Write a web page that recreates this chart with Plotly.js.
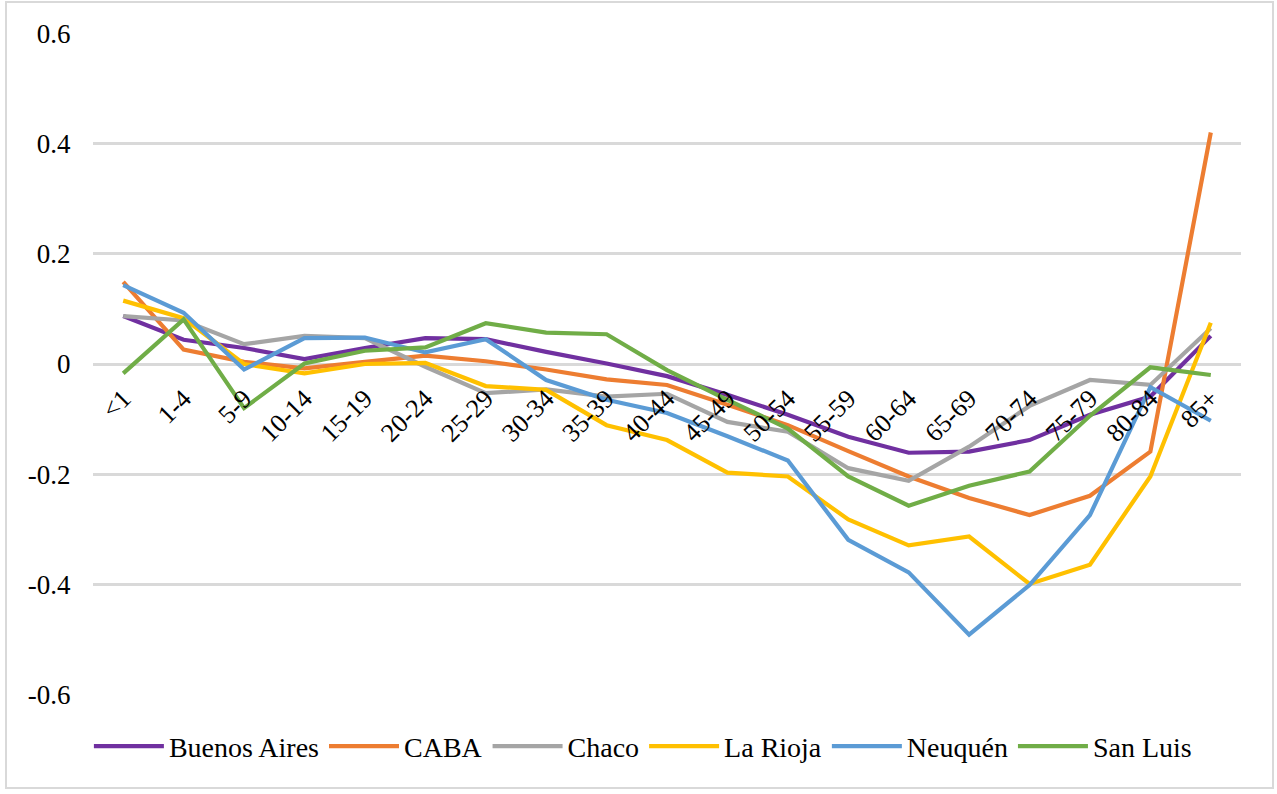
<!DOCTYPE html>
<html>
<head>
<meta charset="utf-8">
<script src="https://cdn.plot.ly/plotly-3.0.1.min.js"></script>
<style>
body { margin: 0; background: #fff; }
#chart { position: absolute; left: 0; top: 0; width: 1277px; height: 794px; }
#frame { position: absolute; left: 5px; top: 1px; width: 1265px; height: 784px; border: 2px solid #d9d9d9; pointer-events: none; }
</style>
</head>
<body>
<div id="chart"></div>
<div id="frame"></div>
<script>
var ageGroups = ['<1', '1-4', '5-9', '10-14', '15-19', '20-24', '25-29', '30-34', '35-39', '40-44',
	'45-49', '50-54', '55-59', '60-64', '65-69', '70-74', '75-79', '80-84', '85+'];

var buenosAires = [0.087, 0.044, 0.029, 0.009, 0.029, 0.047, 0.045, 0.022, 0.001, -0.022,
	-0.056, -0.092, -0.132, -0.161, -0.159, -0.138, -0.092, -0.059, 0.051];
var caba = [0.149, 0.026, 0.004, -0.008, 0.004, 0.015, 0.005, -0.010, -0.028, -0.038,
	-0.074, -0.111, -0.158, -0.204, -0.243, -0.274, -0.239, -0.159, 0.420];
var chaco = [0.087, 0.079, 0.036, 0.051, 0.047, -0.005, -0.053, -0.046, -0.059, -0.054,
	-0.105, -0.123, -0.189, -0.212, -0.150, -0.076, -0.029, -0.038, 0.065];
var laRioja = [0.115, 0.083, 0.000, -0.017, 0.000, 0.002, -0.040, -0.047, -0.111, -0.138,
	-0.197, -0.204, -0.282, -0.329, -0.313, -0.399, -0.364, -0.204, 0.075];
var neuquen = [0.143, 0.093, -0.010, 0.047, 0.048, 0.021, 0.045, -0.029, -0.065, -0.089,
	-0.131, -0.175, -0.319, -0.378, -0.491, -0.401, -0.274, -0.042, -0.103];
var sanLuis = [-0.017, 0.081, -0.080, 0.001, 0.024, 0.030, 0.074, 0.057, 0.054, -0.011,
	-0.065, -0.117, -0.204, -0.257, -0.221, -0.195, -0.094, -0.006, -0.020];

var seriesNames = ['Buenos Aires', 'CABA', 'Chaco', 'La Rioja', 'Neuquén', 'San Luis'];
var seriesValues = [buenosAires, caba, chaco, laRioja, neuquen, sanLuis];
var seriesColors = ['#7030A0', '#ED7D31', '#A5A5A5', '#FFC000', '#5B9BD5', '#70AD47'];

var font = "'Liberation Serif'";

var data = [];
seriesNames.forEach((name, i) => {
	data.push({
		type: 'scatter',
		mode: 'lines',
		name: name,
		x: ageGroups,
		y: seriesValues[i],
		line: {color: seriesColors[i], width: 4.2},
		hoverinfo: 'x+y+name'
	});
});

var layout = {
	width: 1277,
	height: 794,
	paper_bgcolor: 'rgba(0,0,0,0)',
	plot_bgcolor: '#fff',
	margin: {l: 93, r: 36, t: 33, b: 99},
	showlegend: true,
	legend: {
		orientation: 'h',
		x: 0.479,
		xanchor: 'center',
		y: -0.04,
		yanchor: 'top',
		font: {family: font, size: 28, color: '#000'},
		itemwidth: 70,
		traceorder: 'normal'
	},
	xaxis: {
		type: 'category',
		anchor: 'free',
		position: 0.5,
		showgrid: false,
		showline: false,
		zeroline: false,
		tickangle: -45,
		ticks: 'outside',
		ticklen: 8,
		tickcolor: 'rgba(0,0,0,0)',
		tickfont: {family: font, size: 26, color: '#000'},
		range: [-0.5, 18.5]
	},
	yaxis: {
		range: [-0.6005, 0.6005],
		tickvals: [-0.6, -0.4, -0.2, 0, 0.2, 0.4, 0.6],
		ticktext: ['-0.6', '-0.4', '-0.2', '0', '0.2', '0.4', '0.6'],
		showgrid: true,
		gridcolor: '#d9d9d9',
		gridwidth: 2.5,
		zeroline: true,
		zerolinecolor: '#d9d9d9',
		zerolinewidth: 2.5,
		showline: false,
		ticks: 'outside',
		ticklen: 16,
		tickcolor: 'rgba(0,0,0,0)',
		tickfont: {family: font, size: 27, color: '#000'}
	}
};

Plotly.newPlot('chart', data, layout, {displayModeBar: false});
</script>
</body>
</html>
